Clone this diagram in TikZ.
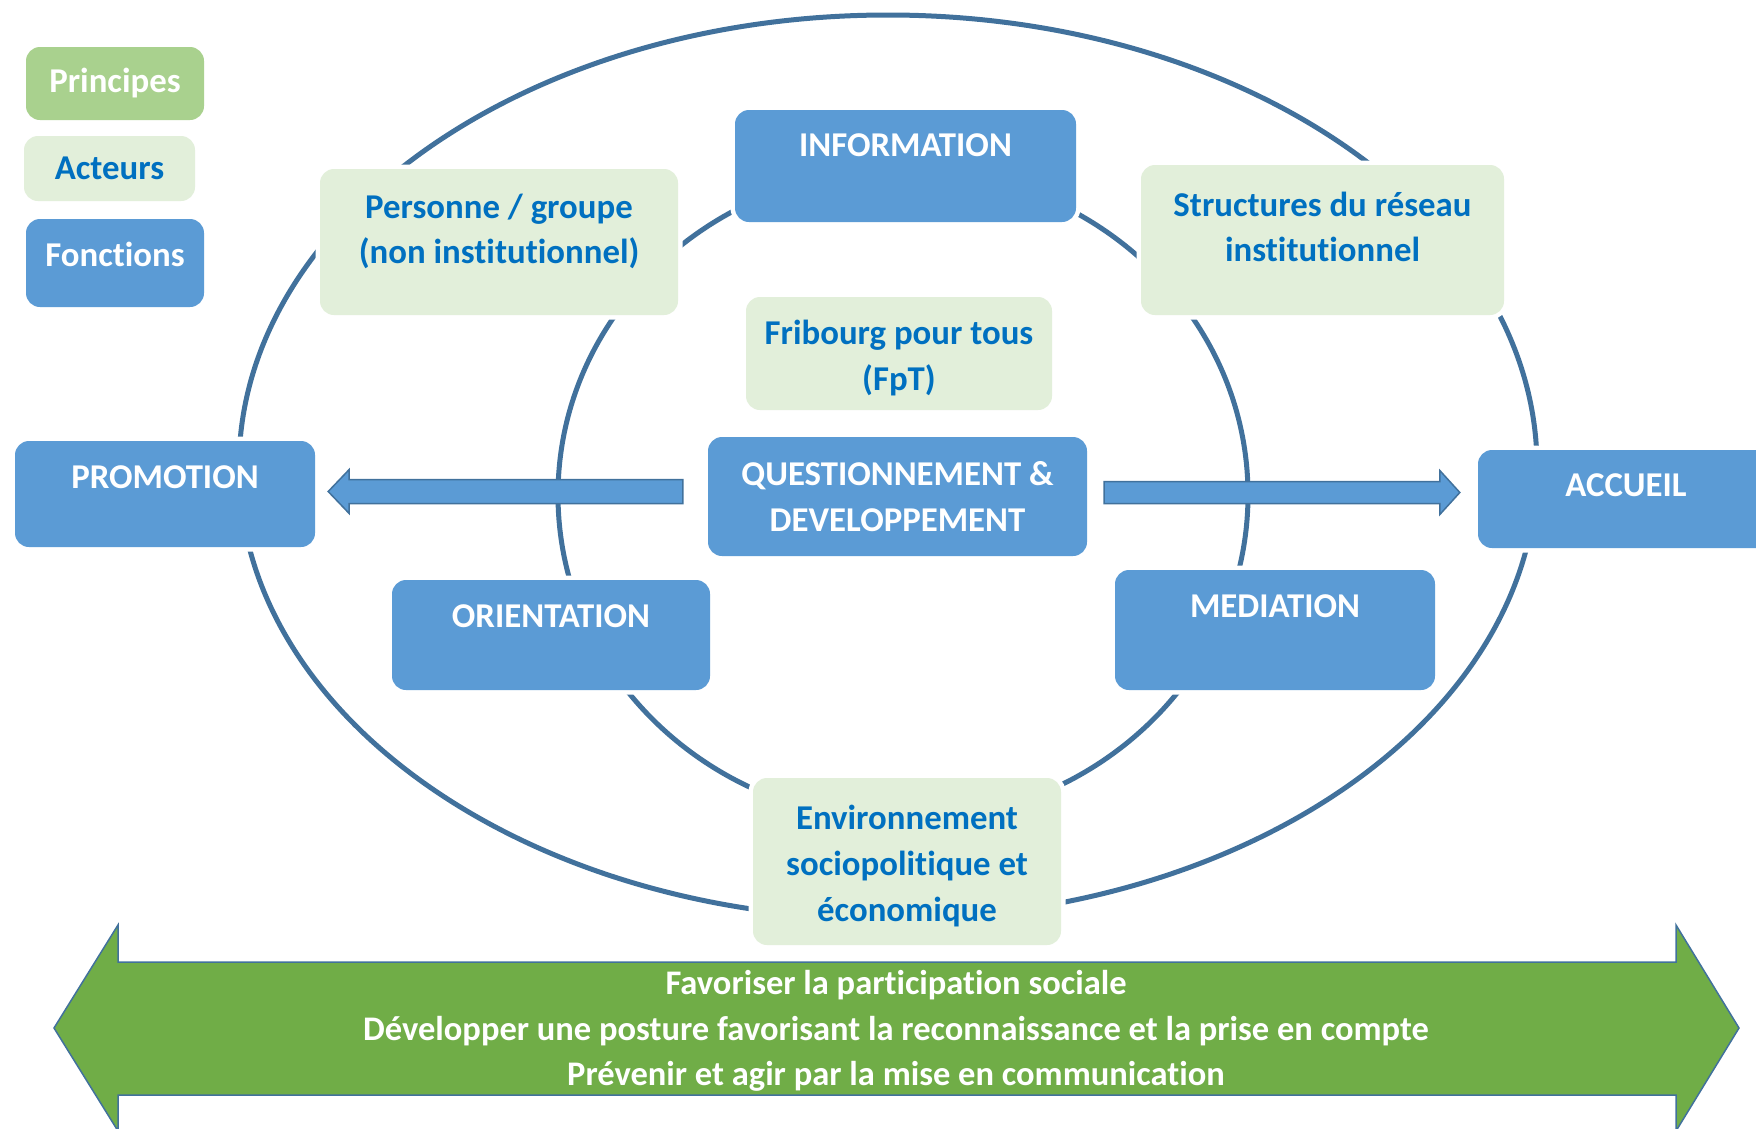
\documentclass[tikz,border=0pt]{standalone}
\usepackage{fontspec}
\setmainfont[Ligatures=NoCommon]{Carlito}
\usetikzlibrary{calc}
\definecolor{fnblue}{RGB}{91,155,213}
\definecolor{actgreen}{RGB}{226,239,218}
\definecolor{prigreen}{RGB}{169,209,142}
\definecolor{arrgreen}{RGB}{112,173,71}
\definecolor{ringblue}{RGB}{65,113,156}
\definecolor{txtblue}{RGB}{0,112,192}

\begin{document}
\begin{tikzpicture}[x=1pt,y=-1pt,
    box/.style={rounded corners=14pt, preaction={draw=white,line width=9pt}, inner sep=0pt, align=center, font=\bfseries\fontsize{34.8}{46}\selectfont},
    fonction/.style={box, fill=fnblue, text=white},
    acteur/.style={box, fill=actgreen, text=txtblue},
    principe/.style={box, fill=prigreen, text=white},
    fnlab/.style={anchor=north, yshift=-25pt, inner sep=0pt, text=white, font=\bfseries\fontsize{34.8}{46}\selectfont},
    actlab/.style={anchor=north, yshift=-27pt, inner sep=0pt, align=center, text=txtblue, font=\bfseries\fontsize{34.8}{45}\selectfont},
    actmid/.style={anchor=center, yshift=-4.5pt, inner sep=0pt, align=center, text=txtblue, font=\bfseries\fontsize{34.8}{46}\selectfont},
    ring/.style={draw=ringblue, line width=5pt},
    blockarr/.style={fill=fnblue, draw=ringblue, line width=1.5pt}]
\useasboundingbox (0,0) rectangle (1756,1128);

\draw[ring] (888,467) ellipse [x radius=649, y radius=452];
\draw[ring] (903,495) ellipse [x radius=345, y radius=326];

\node[principe, minimum width=178pt, minimum height=73pt] (prin) at (115,83.5) {Principes};
\node[acteur, minimum width=171pt, minimum height=65pt] (act) at (109.5,168.5) {Acteurs};
\node[fonction, minimum width=178pt, minimum height=88pt, label={[fnlab,yshift=2pt]north:Fonctions}] (fonc) at (115,263) {};

\node[fonction, minimum width=341pt, minimum height=112pt, label={[fnlab,yshift=1pt]north:INFORMATION}] (info) at (905.5,166) {};
\node[acteur, minimum width=358pt, minimum height=146pt, label={[actlab,yshift=2pt]north:Personne / groupe\\(non institutionnel)}] (pers) at (499,242) {};
\node[acteur, minimum width=363pt, minimum height=150pt, label={[actlab]north:Structures du réseau\\institutionnel}] (struct) at (1322.5,240) {};
\node[acteur, minimum width=306pt, minimum height=113pt, label={[actmid]center:Fribourg pour tous\\(FpT)}] (fpt) at (899,353.5) {};
\node[fonction, minimum width=379pt, minimum height=119pt] (quest) at (897.5,496.5) {QUESTIONNEMENT \&\\DEVELOPPEMENT};
\node[fonction, minimum width=300pt, minimum height=106pt, label={[fnlab]north:PROMOTION}] (promo) at (165,494) {};
\node[fonction, minimum width=296pt, minimum height=98pt, label={[fnlab,yshift=1.5pt]north:ACCUEIL}] (accueil) at (1626,499) {};
\node[fonction, minimum width=318pt, minimum height=110pt, label={[fnlab]north:ORIENTATION}] (orient) at (551,635) {};
\node[fonction, minimum width=320pt, minimum height=120pt, label={[fnlab]north:MEDIATION}] (media) at (1275,630) {};
\node[acteur, minimum width=308pt, minimum height=167pt, label={[actmid]center:Environnement\\sociopolitique et\\économique}] (env) at (907,861.5) {};

\draw[blockarr] let \p1=($(quest.west)+(-25,-5)$), \p2=($(promo.east)+(13,-3)$) in
  (\x1,\y1+12pt) -- (\x2+21pt,\y1+12pt) -- (\x2+21pt,\y1+22pt) -- (\x2,\y1) -- (\x2+21pt,\y1-22pt) -- (\x2+21pt,\y1-12pt) -- (\x1,\y1-12pt) -- cycle;
\draw[blockarr] let \p1=($(quest.east)+(17,-4)$), \p2=($(accueil.west)+(-18,-7)$) in
  (\x1,\y1+11pt) -- (\x2-20pt,\y1+11pt) -- (\x2-20pt,\y1+22pt) -- (\x2,\y1) -- (\x2-20pt,\y1-22pt) -- (\x2-20pt,\y1-11pt) -- (\x1,\y1-11pt) -- cycle;

\draw[fill=arrgreen, draw=ringblue, line width=1.5pt] (54,1028) -- (118,925) -- (118,962) -- (1676,962) -- (1676,925) -- (1739,1028) -- (1676,1131) -- (1676,1095) -- (118,1095) -- (118,1131) -- cycle;
\node[text=white, align=center, font=\bfseries\fontsize{34.5}{45.5}\selectfont] (goals) at (896,1031) {Favoriser la participation sociale\\Développer une posture favorisant la reconnaissance et la prise en compte\\Prévenir et agir par la mise en communication};
\end{tikzpicture}
\end{document}
